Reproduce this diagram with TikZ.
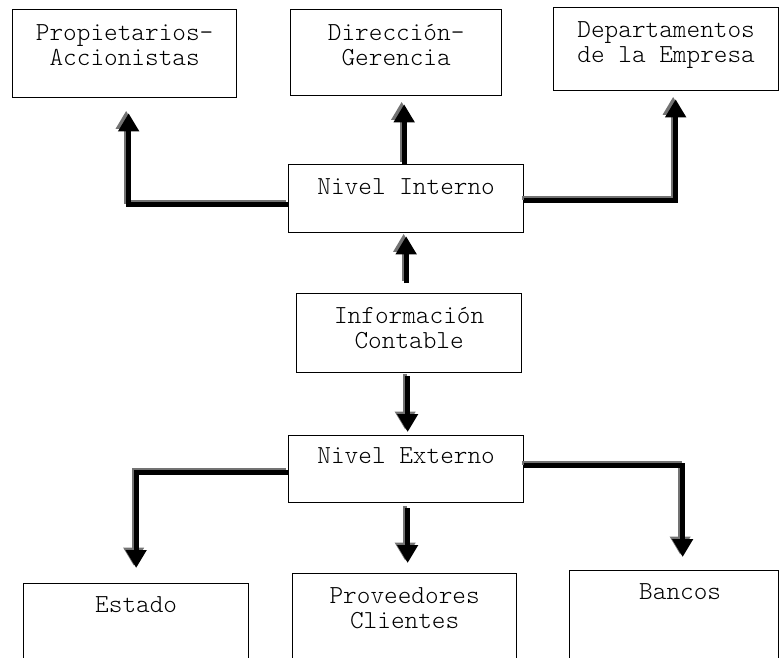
\documentclass[tikz,border=0pt]{standalone}
\usepackage{fontspec}
\setmonofont{Latin Modern Mono Light}
\usetikzlibrary{arrows.meta}
\newcommand\boxlines[1]{\begin{tabular}[t]{@{}c@{}}#1\end{tabular}}
\tikzset{
  box/.style={draw, line width=1.3pt, inner sep=0pt, anchor=north west,
    font=\ttfamily\fontsize{26}{25}\selectfont},
  conn/.style={line width=5pt, -{Triangle[length=18pt,width=20pt]},
    preaction={draw=black!55, line width=4pt,
      transform canvas={shift={(-2.5pt,2.5pt)}}}},
}
\begin{document}
\begin{tikzpicture}[x=1pt,y=-1pt]
\useasboundingbox (0,0) rectangle (779,657);
% upper row
\node[box, minimum width=224pt, text height=31pt, text depth=57pt] (prop) at (12,9)
  {\boxlines{Propietarios-\\Accionistas}};
\node[box, minimum width=211pt, text height=31pt, text depth=55pt] (dir) at (290,9)
  {\boxlines{Dirección-\\Gerencia}};
\node[box, minimum width=225pt, text height=30pt, text depth=53pt] (dep) at (553,7)
  {\boxlines{Departamentos\\de la Empresa}};
% centre column
\node[box, minimum width=235pt, text height=30pt, text depth=38pt] (ni) at (288,164)
  {\boxlines{Nivel Interno}};
\node[box, minimum width=225pt, text height=30pt, text depth=49pt] (info) at (296,293)
  {\boxlines{Información\\Contable}};
\node[box, minimum width=235pt, text height=28pt, text depth=39pt] (ne) at (288,435)
  {\boxlines{Nivel Externo}};
% lower row
\node[box, minimum width=225pt, text height=29pt, text depth=80pt] (est) at (23,583)
  {\boxlines{Estado}};
\node[box, minimum width=224pt, text height=30pt, text depth=90pt] (prov) at (292,573)
  {\boxlines{Proveedores\\Clientes}};
\node[box, minimum width=209pt, text height=29pt, text depth=90pt] (ban) at (569,570)
  {\boxlines{\hspace{12pt}Bancos}};
% connectors
\draw[conn] ([yshift=-6pt]ni.west) -| ([xshift=4pt,yshift=-15pt]prop.south);
\draw[conn] ([xshift=-2pt]ni.north) -- ([xshift=-2pt,yshift=-8pt]ni.north |- dir.south);
\draw[conn] ([yshift=-2pt]ni.east) -| ([xshift=9.5pt,yshift=-8pt]dep.south);
\draw[conn, shorten <=10pt, shorten >=3pt] ([xshift=-3pt]info.north) -- ([xshift=-3pt]info.north |- ni.south);
\draw[conn, shorten <=3pt, shorten >=3pt] ([xshift=-1.5pt]info.south) -- ([xshift=-1.5pt]info.south |- ne.north);
\draw[conn] ([yshift=-3.5pt]ne.west) -| ([yshift=15pt]est.north);
\draw[conn, shorten <=5pt, shorten >=10pt] ([xshift=1.5pt]ne.south) -- ([xshift=1.5pt]ne.south |- prov.north);
\draw[conn] ([yshift=3.5pt]ne.east) -| ([xshift=8.5pt,yshift=13pt]ban.north);
\end{tikzpicture}
\end{document}
